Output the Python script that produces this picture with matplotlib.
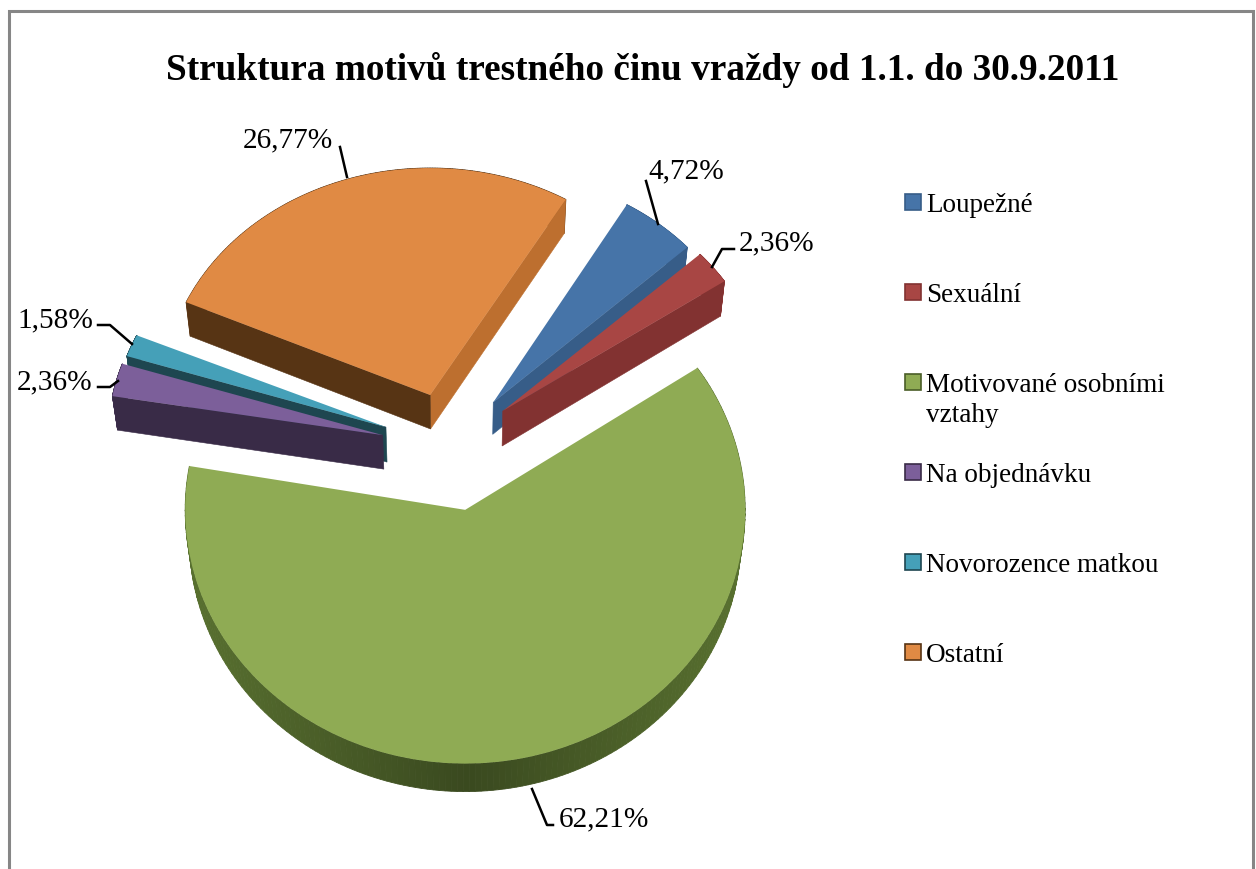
import numpy as np
import matplotlib
matplotlib.use('Agg')
import matplotlib.pyplot as plt
from matplotlib.patches import Polygon, Rectangle
from matplotlib.colors import to_rgb
from matplotlib.transforms import Affine2D

plt.rcParams['font.family'] = ['Liberation Serif', 'DejaVu Serif']

# Data
title = 'Struktura motivů trestného činu vraždy od 1.1. do 30.9.2011'
categories = ['Loupežné', 'Sexuální', 'Motivované osobními\nvztahy', 'Na objednávku',
              'Novorozence matkou', 'Ostatní']
values = [4.72, 2.36, 62.21, 2.36, 1.58, 26.77]

# Styles
top_colors = ['#4674a8', '#a84644', '#8fab54', '#7c5f9a', '#45a0b8', '#e08a44']
side_colors = ['#375d88', '#823231', '#4a5e28', '#392b47', '#1e4650', '#573414']
explode = [0.20, 0.19, 0.26, 0.27, 0.28, 0.21]
nudge = [(0, -2), (3, -3), (-8, 1), (-2, 8), (1, 9), (-10, 2)]  # pixels
scale_x = [0.94, 0.955, 1.0, 0.98, 0.975, 0.955]
scale_y = [0.90, 0.91, 0.995, 0.885, 0.88, 0.89]
depth = [32, 35, 28, 34, 35, 34]
draw_order = [5, 4, 3, 0, 1, 2]

W, H = 1256, 870
cx, cy, rx, ry = 458, 445, 280, 255

fig = plt.figure(figsize=(W / 100, H / 100), dpi=100)
ax = fig.add_axes([0, 0, 1, 1])
wedges, _ = ax.pie(values, colors=top_colors, startangle=59.5, counterclock=False,
                   explode=explode, wedgeprops={'linewidth': 0})
ax.set_aspect('auto')
ax.set_xlim(-cx / rx, (W - cx) / rx)
ax.set_ylim((cy - H) / ry, cy / ry)


def lower(pts, d):
    # the same outline pushed down by the slice thickness
    out = np.array(pts, dtype=float)
    out[:, 0] *= 0.985
    out[:, 1] -= d / ry
    return out


for i in draw_order:
    w = wedges[i]
    c = np.array(w.center) + np.array([nudge[i][0] / rx, -nudge[i][1] / ry])
    w.set_center(tuple(c))
    fx, fy = scale_x[i], scale_y[i]
    w.set_transform(Affine2D().translate(-c[0], -c[1]).scale(fx, fy).translate(c[0], c[1]) + ax.transData)
    t1, t2 = w.theta1, w.theta2
    d = depth[i]
    z = 2 + draw_order.index(i)
    w.set_zorder(z + 0.5)
    side = to_rgb(side_colors[i])

    # outer rim
    angs = np.radians(np.linspace(t1, t2, 181))
    arc = c + np.column_stack([fx * np.cos(angs), fy * np.sin(angs)])
    low = lower(arc, d)
    for k in range(len(arc) - 1):
        s = abs(np.cos(angs[k]))
        col = tuple(min(1, v * (0.78 + 0.42 * s)) for v in side)
        ax.add_patch(Polygon([arc[k], arc[k + 1], low[k + 1], low[k]], closed=True,
                             fc=col, ec=col, lw=0.6, zorder=z))

    # cut faces, only those turned towards the viewer
    for th, visible in ((t1, np.cos(np.radians(t1)) > 0), (t2, np.cos(np.radians(t2)) < 0)):
        if not visible:
            continue
        p = c + np.array([fx * np.cos(np.radians(th)), fy * np.sin(np.radians(th))])
        col = side_colors[i]
        if i == 5 and th == t1:
            col = '#bd6f2f'
        pts = np.array([c, p])
        ax.add_patch(Polygon(np.vstack([pts, lower(pts, d)[::-1]]), closed=True,
                             fc=col, ec=col, lw=0.4, zorder=z + 0.2))

# overlay in picture pixels for texts and leaders
ov = fig.add_axes([0, 0, 1, 1], facecolor='none')
ov.set_xlim(0, W)
ov.set_ylim(H, 0)
ov.axis('off')

ov.text(643, 70, title, ha='center', va='center', fontsize=26.8, fontweight='bold', color='black')

label_pos = [(686, 171), (777, 243), (604, 819), (55, 382), (55, 320), (288, 140)]
leaders = [
    [(646, 182), (658, 225)],
    [(734, 250), (722, 250), (712, 268)],
    [(553, 826), (547, 826), (532, 790)],
    [(98, 388), (110, 388), (118, 382)],
    [(98, 326), (110, 326), (132, 345)],
    [(340, 148), (347, 178)],
]
for v, pos, line in zip(values, label_pos, leaders):
    ov.text(pos[0], pos[1], f'{v:.2f}%'.replace('.', ','), ha='center', va='center',
            fontsize=21.2, color='black')
    xs, ys = zip(*line)
    ov.plot(xs, ys, color='black', lw=1.8, zorder=12)

# legend
for i, name in enumerate(categories):
    y = 203 + 90 * i
    ov.add_patch(Rectangle((905, y - 8), 16, 16, fc=top_colors[i], ec=side_colors[i], lw=1.2))
    ov.text(926, y - 10, name, ha='left', va='top', fontsize=19.5, color='black', linespacing=1.26)

# chart frame
ov.plot([8.5, 8.5, 1253, 1253], [H, 12, 12, H], color='#868686', lw=2.2, solid_joinstyle='miter')

fig.savefig('out.png', dpi=100)
